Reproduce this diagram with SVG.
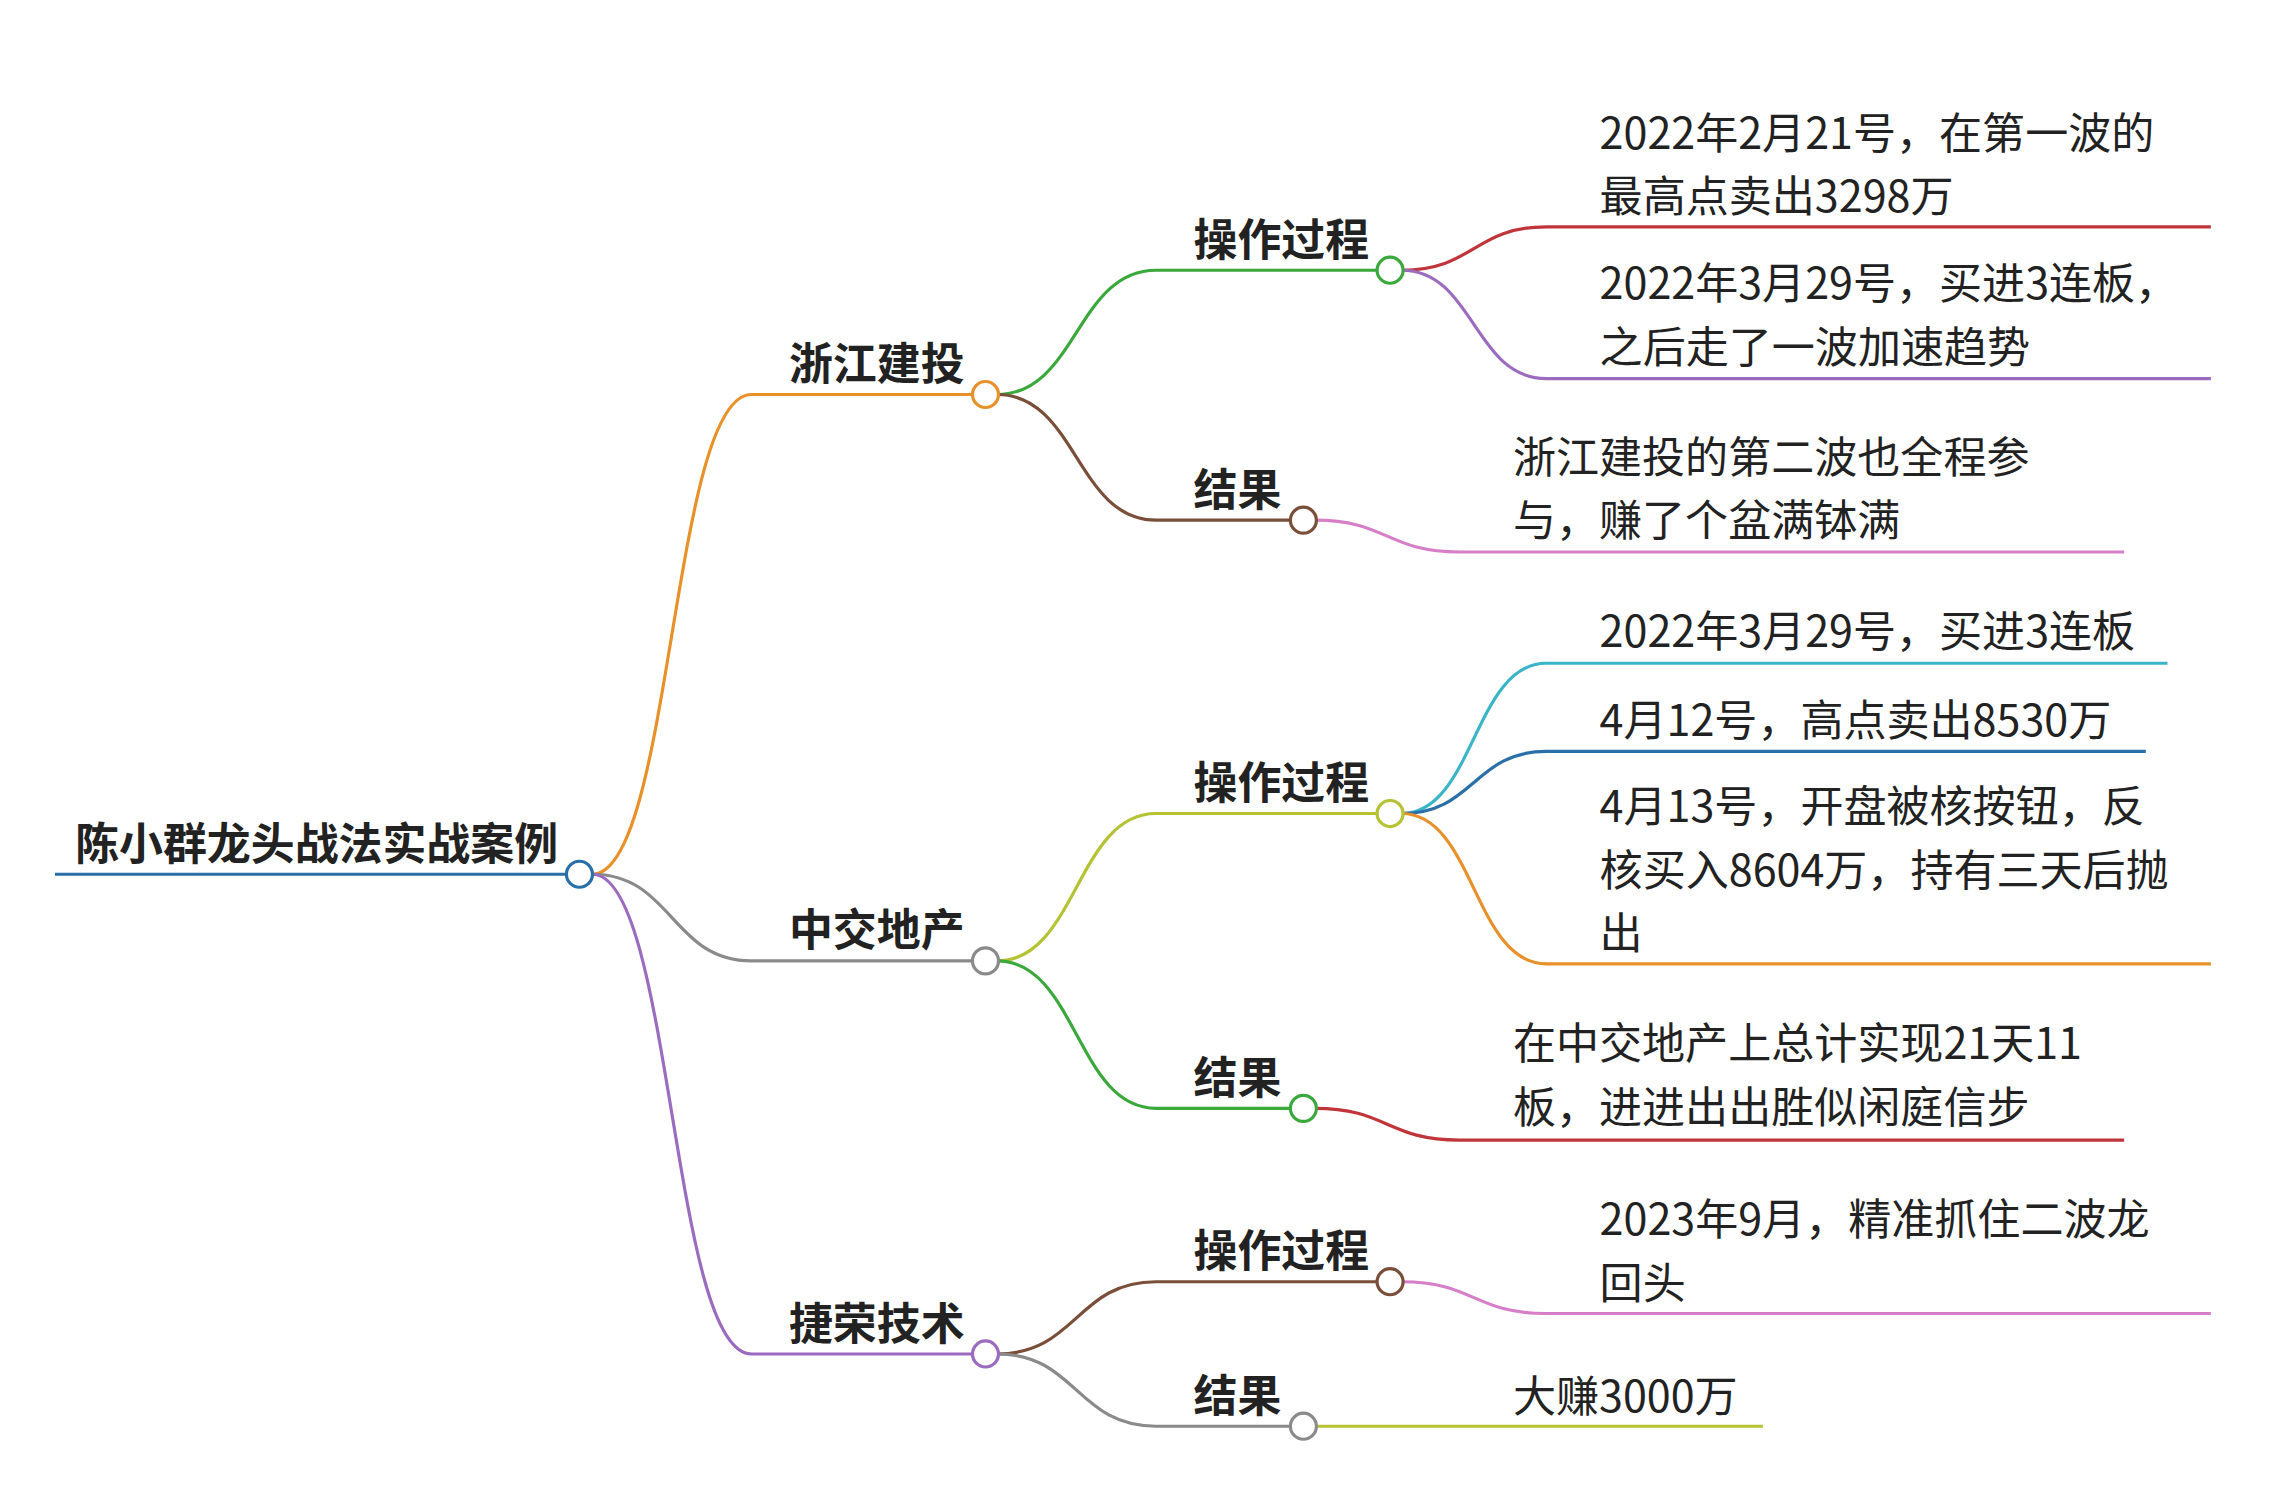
<svg xmlns="http://www.w3.org/2000/svg" width="2270" height="1505" viewBox="0 0 2270 1505">
<style>
.l{fill:none;stroke-width:2.2}
.c{fill:#fff;stroke-width:2.2}
.t{font-family:"Noto Sans CJK SC","Noto Sans",sans-serif;font-size:29.8px;fill:#222}
.b{font-family:"Noto Sans CJK SC","Noto Sans",sans-serif;font-size:30.4px;font-weight:bold;fill:#222}
</style>
<rect width="2270" height="1505" fill="#fff"/>
<g transform="scale(1.445)">
<g id="connectors">
<path class="l" stroke="#2a6fa8" d="M38 605H400"/>
<path class="l" stroke="#e8902a" d="M410 605C465 605 465 273 520 273H678"/>
<path class="l" stroke="#8a8a8a" d="M410 605C465 605 465 665 520 665H678"/>
<path class="l" stroke="#9b6bbf" d="M410 605C465 605 465 937 520 937H678"/>
<path class="l" stroke="#3aa83a" d="M690 273C745 273 745 187 800 187H958"/>
<path class="l" stroke="#7a4f3a" d="M690 273C745 273 745 360 800 360H898"/>
<path class="l" stroke="#c0353a" d="M970 187C1020 187 1020 157 1070 157H1530"/>
<path class="l" stroke="#9b6bbf" d="M970 187C1020 187 1020 262 1070 262H1530"/>
<path class="l" stroke="#d67fc8" d="M910 360C960 360 960 382 1010 382H1470"/>
<path class="l" stroke="#b5c234" d="M690 665C745 665 745 563 800 563H958"/>
<path class="l" stroke="#3aa83a" d="M690 665C745 665 745 767 800 767H898"/>
<path class="l" stroke="#3ab5c8" d="M970 563C1020 563 1020 459 1070 459H1500"/>
<path class="l" stroke="#2a6fa8" d="M970 563C1020 563 1020 520 1070 520H1485"/>
<path class="l" stroke="#e8902a" d="M970 563C1020 563 1020 667 1070 667H1530"/>
<path class="l" stroke="#c0353a" d="M910 767C960 767 960 789 1010 789H1470"/>
<path class="l" stroke="#7a4f3a" d="M690 937C745 937 745 887 800 887H958"/>
<path class="l" stroke="#8a8a8a" d="M690 937C745 937 745 987 800 987H898"/>
<path class="l" stroke="#d67fc8" d="M970 887C1020 887 1020 909 1070 909H1530"/>
<path class="l" stroke="#b5c234" d="M910 987H1220"/>
</g>
<g id="root"><text class="b" x="52" y="595">陈小群龙头战法实战案例</text><circle class="c" stroke="#2a6fa8" cx="401" cy="605" r="9"/></g>
<g id="n1"><text class="b" x="546" y="263">浙江建投</text><circle class="c" stroke="#e8902a" cx="682" cy="273" r="9"/></g>
<g id="n2"><text class="b" x="546" y="655">中交地产</text><circle class="c" stroke="#8a8a8a" cx="682" cy="665" r="9"/></g>
<g id="n3"><text class="b" x="546" y="927">捷荣技术</text><circle class="c" stroke="#9b6bbf" cx="682" cy="937" r="9"/></g>
<g id="n1a"><text class="b" x="826" y="177">操作过程</text><circle class="c" stroke="#3aa83a" cx="962" cy="187" r="9"/></g>
<g id="n1b"><text class="b" x="826" y="350">结果</text><circle class="c" stroke="#7a4f3a" cx="902" cy="360" r="9"/></g>
<g id="n2a"><text class="b" x="826" y="553">操作过程</text><circle class="c" stroke="#b5c234" cx="962" cy="563" r="9"/></g>
<g id="n2b"><text class="b" x="826" y="757">结果</text><circle class="c" stroke="#3aa83a" cx="902" cy="767" r="9"/></g>
<g id="n3a"><text class="b" x="826" y="877">操作过程</text><circle class="c" stroke="#7a4f3a" cx="962" cy="887" r="9"/></g>
<g id="n3b"><text class="b" x="826" y="977">结果</text><circle class="c" stroke="#8a8a8a" cx="902" cy="987" r="9"/></g>
<g id="l1"><text class="t" x="1107" y="103">2022年2月21号，在第一波的</text><text class="t" x="1107" y="147">最高点卖出3298万</text></g>
<g id="l2"><text class="t" x="1107" y="207">2022年3月29号，买进3连板，</text><text class="t" x="1107" y="251">之后走了一波加速趋势</text></g>
<g id="l3"><text class="t" x="1047" y="327">浙江建投的第二波也全程参</text><text class="t" x="1047" y="371">与，赚了个盆满钵满</text></g>
<g id="l4"><text class="t" x="1107" y="448">2022年3月29号，买进3连板</text></g>
<g id="l5"><text class="t" x="1107" y="509">4月12号，高点卖出8530万</text></g>
<g id="l6"><text class="t" x="1107" y="569">4月13号，开盘被核按钮，反</text><text class="t" x="1107" y="613">核买入8604万，持有三天后抛</text><text class="t" x="1107" y="657">出</text></g>
<g id="l7"><text class="t" x="1047" y="733">在中交地产上总计实现21天11</text><text class="t" x="1047" y="777">板，进进出出胜似闲庭信步</text></g>
<g id="l8"><text class="t" x="1107" y="855">2023年9月，精准抓住二波龙</text><text class="t" x="1107" y="899">回头</text></g>
<g id="l9"><text class="t" x="1047" y="977">大赚3000万</text></g>
</g>
</svg>
